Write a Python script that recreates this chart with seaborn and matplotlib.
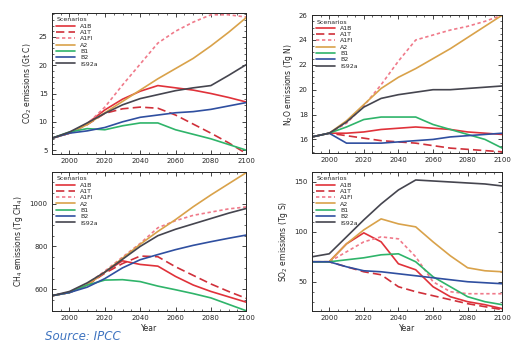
import numpy as np
import pandas as pd
import matplotlib
matplotlib.use("Agg")
import matplotlib.pyplot as plt
import seaborn as sns

years = [1990, 2000, 2010, 2020, 2030, 2040, 2050, 2060, 2070, 2080, 2090, 2100]
scenarios = ["A1B", "A1T", "A1FI", "A2", "B1", "B2", "IS92a"]

# CO2 emissions (Gt C)
co2_a1b = [7.1, 8.0, 9.7, 12.1, 14.0, 15.4, 16.4, 16.0, 15.6, 15.0, 14.3, 13.5]
co2_a1t = [7.1, 8.0, 9.5, 11.5, 12.3, 12.6, 12.4, 11.2, 9.6, 8.0, 6.3, 4.4]
co2_a1fi = [7.1, 8.0, 9.6, 12.6, 16.5, 20.2, 23.9, 26.0, 27.6, 28.9, 28.9, 28.5]
co2_a2 = [7.1, 8.0, 9.5, 11.6, 13.6, 15.6, 17.6, 19.4, 21.2, 23.4, 25.8, 28.4]
co2_b1 = [7.1, 8.2, 8.8, 8.6, 9.3, 9.8, 9.8, 8.6, 7.8, 7.0, 6.0, 5.0]
co2_b2 = [7.1, 8.0, 8.4, 9.0, 10.0, 10.8, 11.2, 11.6, 11.8, 12.2, 12.8, 13.4]
co2_is92a = [7.1, 8.2, 9.8, 11.5, 13.0, 14.1, 14.8, 15.5, 16.0, 16.4, 18.2, 20.1]

# N2O emissions (Tg N)
n2o_a1b = [16.2, 16.5, 16.5, 16.6, 16.8, 16.9, 17.0, 16.9, 16.8, 16.6, 16.5, 16.4]
n2o_a1t = [16.2, 16.5, 16.3, 16.1, 15.9, 15.8, 15.7, 15.5, 15.3, 15.2, 15.1, 15.0]
n2o_a1fi = [16.2, 16.5, 17.3, 18.7, 20.4, 22.3, 24.0, 24.4, 24.8, 25.1, 25.5, 26.0]
n2o_a2 = [16.2, 16.5, 17.5, 18.8, 20.1, 21.0, 21.7, 22.5, 23.3, 24.2, 25.1, 26.0]
n2o_b1 = [16.2, 16.5, 17.0, 17.6, 17.8, 17.8, 17.8, 17.2, 16.8, 16.4, 16.0, 15.3]
n2o_b2 = [16.2, 16.5, 15.7, 15.7, 15.7, 15.8, 15.9, 16.0, 16.2, 16.3, 16.4, 16.5]
n2o_is92a = [16.2, 16.5, 17.4, 18.6, 19.3, 19.6, 19.8, 20.0, 20.0, 20.1, 20.2, 20.3]

# CH4 emissions (Tg CH4)
ch4_a1b = [570, 585, 620, 680, 733, 716, 708, 660, 620, 590, 565, 540]
ch4_a1t = [570, 585, 620, 675, 720, 755, 752, 705, 665, 625, 590, 558]
ch4_a1fi = [570, 585, 625, 685, 750, 814, 887, 920, 945, 960, 975, 984]
ch4_a2 = [570, 585, 620, 680, 745, 810, 870, 925, 985, 1040, 1092, 1144]
ch4_b1 = [570, 585, 620, 643, 645, 636, 615, 598, 580, 560, 530, 500]
ch4_b2 = [570, 585, 610, 650, 700, 738, 762, 785, 805, 822, 838, 853]
ch4_is92a = [570, 590, 630, 680, 740, 800, 850, 880, 905, 930, 955, 977]

# SO2 emissions (Tg S)
so2_a1b = [70, 70, 88, 99, 90, 68, 62, 45, 35, 30, 27, 23]
so2_a1t = [70, 70, 65, 60, 57, 45, 40, 36, 32, 28, 25, 22]
so2_a1fi = [70, 70, 80, 90, 95, 93, 75, 50, 40, 38, 38, 38]
so2_a2 = [70, 70, 88, 102, 113, 108, 105, 90, 76, 64, 61, 60]
so2_b1 = [70, 70, 72, 74, 77, 78, 70, 55, 45, 35, 30, 27]
so2_b2 = [70, 70, 65, 61, 60, 58, 56, 54, 52, 50, 49, 48]
so2_is92a = [75, 78, 95, 112, 128, 142, 152, 151, 150, 149, 148, 146]

colors = {"A1B": "#e0323a", "A1T": "#d0303a", "A1FI": "#f07a8a", "A2": "#d9a24a",
          "B1": "#2fb46a", "B2": "#2f4fa0", "IS92a": "#45454f"}
dashes = {"A1B": "", "A1T": (5, 2.5), "A1FI": (2, 1.6), "A2": "", "B1": "", "B2": "", "IS92a": ""}

panels = [
    ("CO$_2$ emissions (Gt C)", [co2_a1b, co2_a1t, co2_a1fi, co2_a2, co2_b1, co2_b2, co2_is92a],
     (4.3, 29.2), [5, 10, 15, 20, 25], [0.101, 0.552, 0.379, 0.410]),
    ("N$_2$O emissions (Tg N)", [n2o_a1b, n2o_a1t, n2o_a1fi, n2o_a2, n2o_b1, n2o_b2, n2o_is92a],
     (14.9, 26.0), [16, 18, 20, 22, 24, 26], [0.608, 0.555, 0.371, 0.401]),
    ("CH$_4$ emissions (Tg CH$_4$)", [ch4_a1b, ch4_a1t, ch4_a1fi, ch4_a2, ch4_b1, ch4_b2, ch4_is92a],
     (499, 1147), [600, 800, 1000], [0.101, 0.096, 0.379, 0.404]),
    ("SO$_2$ emissions (Tg S)", [so2_a1b, so2_a1t, so2_a1fi, so2_a2, so2_b1, so2_b2, so2_is92a],
     (20.7, 160), [50, 100, 150], [0.608, 0.096, 0.371, 0.404]),
]

sns.set_theme(style="ticks")
plt.rcParams["font.family"] = ["DejaVu Sans"]

fig = plt.figure(figsize=(5.13, 3.44), dpi=100)

for i, (ylabel, series, ylim, yticks, pos) in enumerate(panels):
    ax = fig.add_axes(pos)
    df = pd.DataFrame({"Year": np.tile(years, len(scenarios)),
                       "Value": np.concatenate(series),
                       "Scenarios": np.repeat(scenarios, len(years))})
    sns.lineplot(data=df, x="Year", y="Value", hue="Scenarios", style="Scenarios",
                 palette=colors, dashes=dashes, hue_order=scenarios, style_order=scenarios,
                 linewidth=1.2, ax=ax)
    ax.set_xlim(1990, 2100)
    ax.set_ylim(*ylim)
    ax.set_xticks([2000, 2020, 2040, 2060, 2080, 2100])
    ax.set_yticks(yticks)
    ax.minorticks_on()
    ax.tick_params(which="both", direction="in", top=True, right=True, labelsize=5, pad=3)
    ax.tick_params(which="major", length=3, width=0.6)
    ax.tick_params(which="minor", length=1.5, width=0.5)
    for s in ax.spines.values():
        s.set_linewidth(0.7)
    ax.set_ylabel(ylabel, fontsize=5.5, labelpad=3)
    if i >= 2:
        ax.set_xlabel("Year", fontsize=5.5, labelpad=2)
    else:
        ax.set_xlabel("")
    leg = ax.legend(loc="upper left", fontsize=4.5, title="Scenarios", title_fontsize=4.5,
                    frameon=False, handlelength=3, labelspacing=0.15, borderaxespad=0.3)
    leg._legend_box.align = "left"

fig.text(0.088, 0.012, "Source: IPCC", color="#3f74c0", fontsize=8.5, style="italic",
         va="baseline")

fig.savefig("out.png", dpi=100)
